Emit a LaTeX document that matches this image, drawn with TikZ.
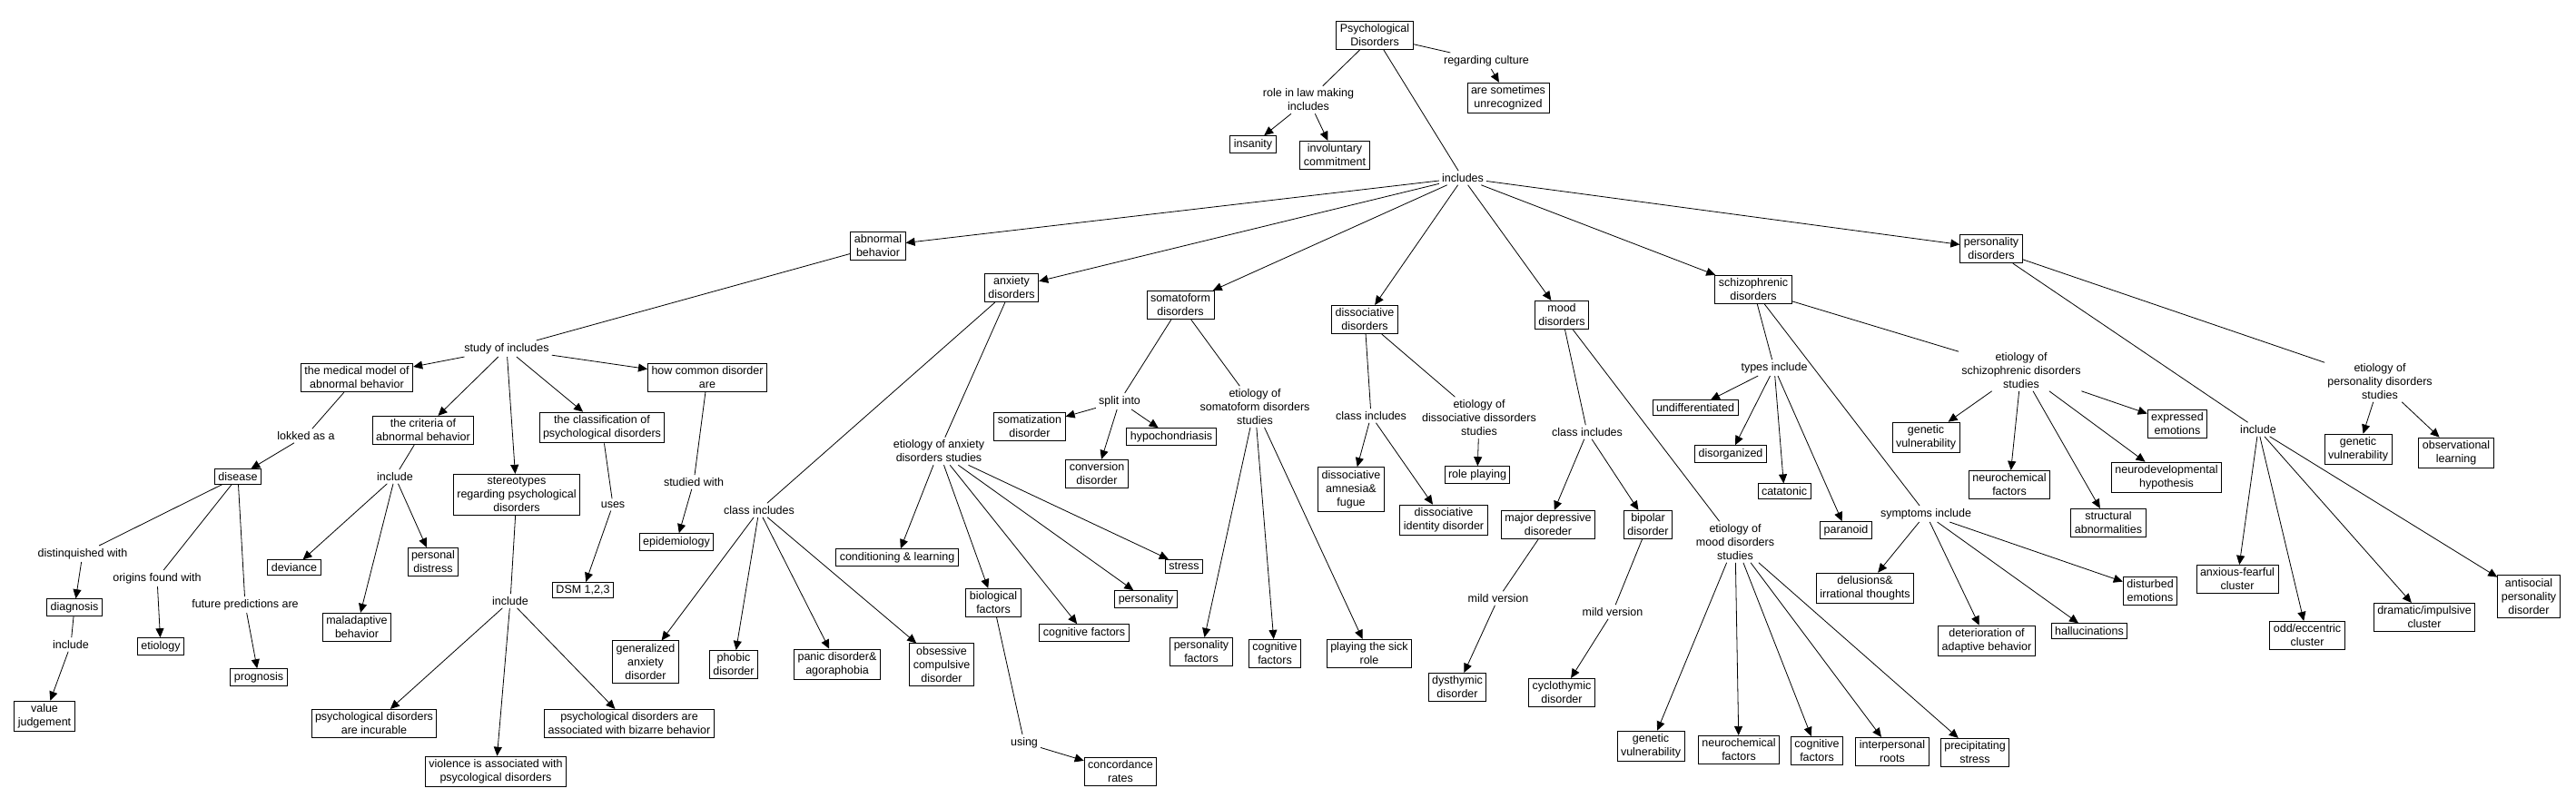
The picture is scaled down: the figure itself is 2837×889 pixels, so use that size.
\documentclass[tikz,border=0pt]{standalone}
\usepackage{fontspec}
\setmainfont{Liberation Sans}
\usetikzlibrary{arrows.meta}
\begin{document}
\begin{tikzpicture}[x=1pt,y=-1pt,
  box/.style={draw,line width=1pt,fill=white,align=center,inner xsep=4pt,inner ysep=3.5pt,font=\fontsize{12.5}{15}\selectfont},
  lab/.style={align=center,inner sep=3pt,font=\fontsize{12.5}{15}\selectfont},
  ln/.style={line width=0.8pt},
  ar/.style={line width=0.8pt,-{Triangle[length=10pt,width=9pt]}}]
\fill[white] (0,0) rectangle (2837,889);
\useasboundingbox (0,0) rectangle (2837,889);

% top
\node[box] (pd) at (1514,39) {Psychological\\Disorders};
\node[lab] (rc) at (1637,67) {regarding culture};
\node[box] (asu) at (1661,108) {are sometimes\\unrecognized};
\node[lab] (rlm) at (1441,110) {role in law making\\includes};
\node[box] (ins) at (1380,159) {insanity};
\node[box] (ivc) at (1470,171) {involuntary\\commitment};
\node[lab] (inc) at (1611,196) {includes};

\node[box] (ab) at (967,271) {abnormal\\behavior};
\node[box] (anx) at (1114,317) {anxiety\\disorders};
\node[box] (som) at (1300,336) {somatoform\\disorders};
\node[box] (dis) at (1503,352) {dissociative\\disorders};
\node[box] (mood) at (1720,347) {mood\\disorders};
\node[box] (sch) at (1931,319) {schizophrenic\\disorders};
\node[box] (per) at (2193,274) {personality\\disorders};

% abnormal behavior
\node[lab] (soi) at (558,384) {study of includes};
\node[box] (mm) at (393,416) {the medical model of\\abnormal behavior};
\node[lab] (lok) at (337,480) {lokked as a};
\node[box] (dise) at (262,525) {disease};
\node[lab] (dw) at (91,610) {distinquished with};
\node[lab] (ofw) at (173,637) {origins found with};
\node[lab] (fpa) at (270,666) {future predictions are};
\node[box] (diag) at (82,669) {diagnosis};
\node[lab] (incd) at (78,710) {include};
\node[box] (vj) at (49,789) {value\\judgement};
\node[box] (eti) at (177,712) {etiology};
\node[box] (prog) at (285,746) {prognosis};
\node[box] (crit) at (466,474) {the criteria of\\abnormal behavior};
\node[lab] (incc) at (435,525) {include};
\node[box] (dev) at (324,625) {deviance};
\node[box] (mal) at (393,691) {maladaptive\\behavior};
\node[box] (pdis) at (477,619) {personal\\distress};
\node[box] (ster) at (569,545) {stereotypes\\regarding psychological\\disorders};
\node[lab] (incs) at (562,662) {include};
\node[box] (incu) at (412,797) {psychological disorders\\are incurable};
\node[box] (viol) at (546,850) {violence is associated with\\psycological disorders};
\node[box] (biz) at (693,797) {psychological disorders are\\associated with bizarre behavior};
\node[box] (cls) at (663,471) {the classification of\\psychological disorders};
\node[lab] (uses) at (675,556) {uses};
\node[box] (dsm) at (642,650) {DSM 1,2,3};
\node[box] (hc) at (779,416) {how common disorder\\are};
\node[lab] (sw) at (764,531) {studied with};
\node[box] (epi) at (745,597) {epidemiology};

% anxiety
\node[lab] (cia) at (836,562) {class includes};
\node[box] (gad) at (711,729) {generalized\\anxiety\\disorder};
\node[box] (pho) at (808,732) {phobic\\disorder};
\node[box] (pan) at (922,732) {panic disorder\&\\agoraphobia};
\node[box] (ocd) at (1037,732) {obsessive\\compulsive\\disorder};
\node[lab] (eas) at (1034,497) {etiology of anxiety\\disorders studies};
\node[box] (cl) at (988,614) {conditioning \& learning};
\node[box] (bio) at (1094,664) {biological\\factors};
\node[lab] (using) at (1128,818) {using};
\node[box] (conc) at (1234,850) {concordance\\rates};
\node[box] (cogA) at (1194,697) {cognitive factors};
\node[box] (persA) at (1262,660) {personality};
\node[box] (str) at (1304,624) {stress};

% somatoform
\node[lab] (spl) at (1233,442) {split into};
\node[box] (smz) at (1134,470) {somatization\\disorder};
\node[box] (hyp) at (1290,481) {hypochondriasis};
\node[box] (conv) at (1208,522) {conversion\\disorder};
\node[lab] (ess) at (1382,448) {etiology of\\somatoform disorders\\studies};
\node[box] (pf) at (1323,718) {personality\\factors};
\node[box] (cogS) at (1404,720) {cognitive\\factors};
\node[box] (sick) at (1508,720) {playing the sick\\role};

% dissociative
\node[lab] (cid) at (1510,458) {class includes};
\node[box] (amn) at (1488,539) {dissociative\\amnesia\&\\fugue};
\node[box] (did) at (1590,573) {dissociative\\identity disorder};
\node[lab] (eds) at (1629,460) {etiology of\\dissociative dissorders\\studies};
\node[box] (rp) at (1627,523) {role playing};

% mood
\node[lab] (cim) at (1748,476) {class includes};
\node[box] (mdd) at (1705,578) {major depressive\\disoreder};
\node[box] (bip) at (1815,578) {bipolar\\disorder};
\node[lab] (mv1) at (1650,659) {mild version};
\node[box] (dys) at (1605,757) {dysthymic\\disorder};
\node[lab] (mv2) at (1776,674) {mild version};
\node[box] (cyc) at (1720,763) {cyclothymic\\disorder};
\node[lab] (ems) at (1911,597) {etiology of\\mood disorders\\studies};
\node[box] (gvM) at (1818,822) {genetic\\vulnerability};
\node[box] (nfM) at (1915,826) {neurochemical\\factors};
\node[box] (cfM) at (2001,827) {cognitive\\factors};
\node[box] (ipr) at (2084,828) {interpersonal\\roots};
\node[box] (ps) at (2175,829) {precipitating\\stress};

% schizophrenic
\node[lab] (ti) at (1954,405) {types include};
\node[box] (und) at (1867,449) {undifferentiated};
\node[box] (dorg) at (1906,500) {disorganized};
\node[box] (cat) at (1965,541) {catatonic};
\node[box] (par) at (2033,584) {paranoid};
\node[lab] (si) at (2121,566) {symptoms include};
\node[box] (del) at (2054,648) {delusions\&\\irrational thoughts};
\node[box] (det) at (2188,706) {deterioration of\\adaptive behavior};
\node[box] (hal) at (2301,695) {hallucinations};
\node[box] (dem) at (2368,651) {disturbed\\emotions};
\node[lab] (esc) at (2226,408) {etiology of\\schizophrenic disorders\\studies};
\node[box] (gvS) at (2121,482) {genetic\\vulnerability};
\node[box] (nfS) at (2213,534) {neurochemical\\factors};
\node[box] (sab) at (2322,576) {structural\\abnormalities};
\node[box] (ndh) at (2386,526) {neurodevelopmental\\hypothesis};
\node[box] (exe) at (2398,467) {expressed\\emotions};

% personality
\node[lab] (incp) at (2487,473) {include};
\node[box] (af) at (2464,638) {anxious-fearful\\cluster};
\node[box] (oe) at (2541,700) {odd/eccentric\\cluster};
\node[box] (di) at (2670,680) {dramatic/impulsive\\cluster};
\node[box] (asp) at (2785,657) {antisocial\\personality\\disorder};
\node[lab] (eps) at (2621,420) {etiology of\\personality disorders\\studies};
\node[box] (gvP) at (2597,495) {genetic\\vulnerability};
\node[box] (ol) at (2705,499) {observational\\learning};

% connectors
\draw[ln] (pd) -- (rc); \draw[ar] (rc) -- (asu);
\draw[ln] (pd) -- (rlm); \draw[ar] (rlm) -- (ins); \draw[ar] (rlm) -- (ivc);
\draw[ln] (pd) -- (inc);
\foreach \t in {ab,anx,som,dis,mood,sch,per} \draw[ar] (inc) -- (\t);

\draw[ln] (ab) -- (soi);
\foreach \t in {mm,crit,ster,cls,hc} \draw[ar] (soi) -- (\t);
\draw[ln] (mm) -- (lok); \draw[ar] (lok) -- (dise);
\draw[ln] (dise) -- (dw); \draw[ar] (dw) -- (diag);
\draw[ln] (dise) -- (ofw); \draw[ar] (ofw) -- (eti);
\draw[ln] (dise) -- (fpa); \draw[ar] (fpa) -- (prog);
\draw[ln] (diag) -- (incd); \draw[ar] (incd) -- (vj);
\draw[ln] (crit) -- (incc);
\foreach \t in {dev,mal,pdis} \draw[ar] (incc) -- (\t);
\draw[ln] (ster) -- (incs);
\foreach \t in {incu,viol,biz} \draw[ar] (incs) -- (\t);
\draw[ln] (cls) -- (uses); \draw[ar] (uses) -- (dsm);
\draw[ln] (hc) -- (sw); \draw[ar] (sw) -- (epi);

\draw[ln] (anx) -- (cia);
\foreach \t in {gad,pho,pan,ocd} \draw[ar] (cia) -- (\t);
\draw[ln] (anx) -- (eas);
\foreach \t in {cl,bio,cogA,persA,str} \draw[ar] (eas) -- (\t);
\draw[ln] (bio) -- (using); \draw[ar] (using) -- (conc);

\draw[ln] (som) -- (spl);
\foreach \t in {smz,hyp,conv} \draw[ar] (spl) -- (\t);
\draw[ln] (som) -- (ess);
\foreach \t in {pf,cogS,sick} \draw[ar] (ess) -- (\t);

\draw[ln] (dis) -- (cid);
\foreach \t in {amn,did} \draw[ar] (cid) -- (\t);
\draw[ln] (dis) -- (eds); \draw[ar] (eds) -- (rp);

\draw[ln] (mood) -- (cim);
\foreach \t in {mdd,bip} \draw[ar] (cim) -- (\t);
\draw[ln] (mdd) -- (mv1); \draw[ar] (mv1) -- (dys);
\draw[ln] (bip) -- (mv2); \draw[ar] (mv2) -- (cyc);
\draw[ln] (mood) -- (ems);
\foreach \t in {gvM,nfM,cfM,ipr,ps} \draw[ar] (ems) -- (\t);

\draw[ln] (sch) -- (ti);
\foreach \t in {und,dorg,cat,par} \draw[ar] (ti) -- (\t);
\draw[ln] (sch) -- (si);
\foreach \t in {del,det,hal,dem} \draw[ar] (si) -- (\t);
\draw[ln] (sch) -- (esc);
\foreach \t in {gvS,nfS,sab,ndh,exe} \draw[ar] (esc) -- (\t);

\draw[ln] (per) -- (incp);
\foreach \t in {af,oe,di,asp} \draw[ar] (incp) -- (\t);
\draw[ln] (per) -- (eps);
\foreach \t in {gvP,ol} \draw[ar] (eps) -- (\t);
\end{tikzpicture}
\end{document}
